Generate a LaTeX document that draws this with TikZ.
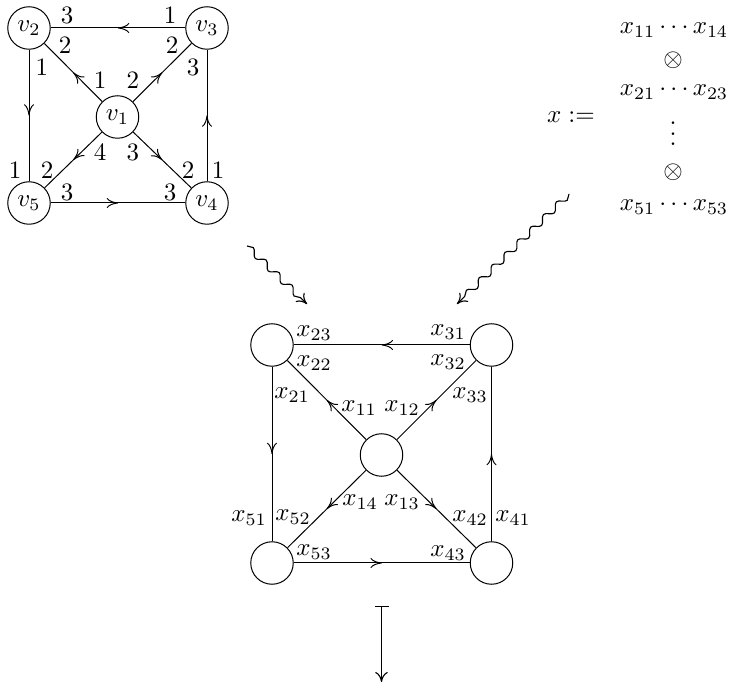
\documentclass[tikz,border=0pt]{standalone}
\usetikzlibrary{arrows.meta,decorations.markings,decorations.pathmorphing}
\begin{document}
\begin{tikzpicture}[x=0.4pt,y=-0.4pt,
  vert/.style={circle,draw,line width=0.4pt,minimum size=17pt,inner sep=0pt},
  lbl/.style={inner sep=0pt},
  edge/.style={line width=0.4pt,postaction={decorate},
    decoration={markings,mark=at position 0.5 with {\arrow{To[length=4.5pt,width=4pt]}}}},
  squig/.style={line width=0.45pt,decorate,
    decoration={snake,amplitude=1.3pt,segment length=7.2pt,post length=2.5pt},
    -{To[length=4pt,width=5pt]}},
  mapsto/.style={line width=0.45pt,{Bar[width=5.6pt]}-{To[length=4pt,width=5pt]}}]
\useasboundingbox (0,0) rectangle (734,685);

% top-left graph
\node[vert] (v2) at (29,28) {$v_2$};
\node[vert] (v3) at (207,28) {$v_3$};
\node[vert] (v1) at (117.5,117) {$v_1$};
\node[vert] (v5) at (29,203) {$v_5$};
\node[vert] (v4) at (207,203) {$v_4$};
\draw[edge] (v3) -- (v2);
\draw[edge] (v2) -- (v5);
\draw[edge] (v5) -- (v4);
\draw[edge] (v4) -- (v3);
\draw[edge] (v1) -- (v2);
\draw[edge] (v1) -- (v3);
\draw[edge] (v1) -- (v5);
\draw[edge] (v1) -- (v4);

\node[lbl] (a1) at (67,15) {$3$};
\node[lbl] (a2) at (170,15) {$1$};
\node[lbl] (a3) at (65,45) {$2$};
\node[lbl] (a4) at (172,45) {$2$};
\node[lbl] (a5) at (42,67) {$1$};
\node[lbl] (a6) at (193,67) {$3$};
\node[lbl] (a7) at (100,80) {$1$};
\node[lbl] (a8) at (133,80) {$2$};
\node[lbl] (a9) at (100,152) {$4$};
\node[lbl] (a10) at (133,152) {$3$};
\node[lbl] (a11) at (15,170) {$1$};
\node[lbl] (a12) at (47,170) {$2$};
\node[lbl] (a13) at (188,170) {$2$};
\node[lbl] (a14) at (218,170) {$1$};
\node[lbl] (a15) at (67,192) {$3$};
\node[lbl] (a16) at (170,192) {$3$};

% tensor definition
\node[lbl] (xdef) at (571,117) {$x :=$};
\node[lbl] (r1) at (674,30) {$x_{11}\cdots x_{14}$};
\node[lbl] (o1) at (673,60) {$\otimes$};
\node[lbl] (r2) at (674,92) {$x_{21}\cdots x_{23}$};
\node[lbl] (vd) at (673,134) {\vbox{\baselineskip=4.2pt\lineskiplimit=0pt\hbox{.}\hbox{.}\hbox{.}}};
\node[lbl] (o2) at (673,172) {$\otimes$};
\node[lbl] (r5) at (674,207) {$x_{51}\cdots x_{53}$};

% squiggly arrows
\coordinate (s1) at (247,246);
\coordinate (t1) at (307,304);
\coordinate (s2) at (569,194);
\coordinate (t2) at (457,304);
\draw[squig] (s1) -- (t1);
\draw[squig] (s2) -- (t2);

% bottom graph
\node[vert] (w2) at (272,345) {};
\node[vert] (w3) at (491.5,345) {};
\node[vert] (w1) at (381.5,455) {};
\node[vert] (w5) at (272,563) {};
\node[vert] (w4) at (491.5,563) {};
\draw[edge] (w3) -- (w2);
\draw[edge] (w2) -- (w5);
\draw[edge] (w5) -- (w4);
\draw[edge] (w4) -- (w3);
\draw[edge] (w1) -- (w2);
\draw[edge] (w1) -- (w3);
\draw[edge] (w1) -- (w5);
\draw[edge] (w1) -- (w4);

\node[lbl] (b23) at (314,333) {$x_{23}$};
\node[lbl] (b31) at (448,332) {$x_{31}$};
\node[lbl] (b22) at (314,363) {$x_{22}$};
\node[lbl] (b32) at (448,362) {$x_{32}$};
\node[lbl] (b21) at (292,395) {$x_{21}$};
\node[lbl] (b33) at (470,395) {$x_{33}$};
\node[lbl] (b11) at (359,408) {$x_{11}$};
\node[lbl] (b12) at (402,408) {$x_{12}$};
\node[lbl] (b14) at (360,502) {$x_{14}$};
\node[lbl] (b13) at (402,502) {$x_{13}$};
\node[lbl] (b51) at (249,518) {$x_{51}$};
\node[lbl] (b52) at (293,517) {$x_{52}$};
\node[lbl] (b42) at (470,518) {$x_{42}$};
\node[lbl] (b41) at (513,518) {$x_{41}$};
\node[lbl] (b53) at (314,552) {$x_{53}$};
\node[lbl] (b43) at (448,553) {$x_{43}$};

% mapsto
\coordinate (m1) at (381.5,606);
\coordinate (m2) at (381.5,682);
\draw[mapsto] (m1) -- (m2);
\end{tikzpicture}
\end{document}
